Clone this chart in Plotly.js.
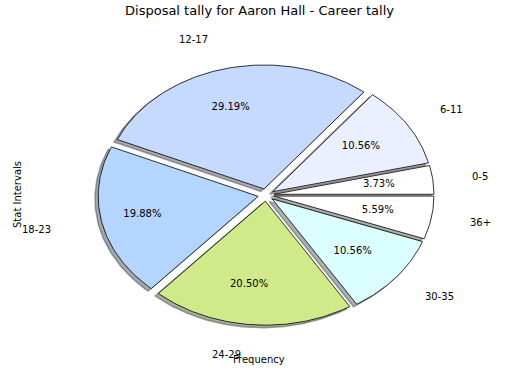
<!DOCTYPE html>
<html>
<head>
<meta charset="utf-8">
<script src="https://cdn.plot.ly/plotly-3.0.1.min.js"></script>
<style>html,body{margin:0;padding:0;background:#fff;}#chart{width:520px;height:390px;}</style>
</head>
<body>
<div id="chart"></div>
<script>
// ---- data ----
const categories = ['0-5', '6-11', '12-17', '18-23', '24-29', '30-35', '36+'];
const counts = [6, 17, 47, 32, 33, 17, 9];
const sliceColors = ['#ffffff', '#eaf0ff', '#c6d9ff', '#b3d5ff', '#d0ea8a', '#dbffff', '#ffffff'];
const explode = [0.05, 0.05, 0.05, 0.05, 0.05, 0.05, 0.05];
const chartTitle = 'Disposal tally for Aaron Hall - Career tally';
const xLabel = 'Frequency';
const yLabel = 'Stat Intervals';

// ---- build ----
const total = counts.reduce((a, b) => a + b, 0);
const traces = [];
const shadowTraces = [];
const annotations = [];
const pctX = [], pctY = [], pctText = [];
let start = 0;
const deg = Math.PI / 180;

function shade(hex) {
  const r = parseInt(hex.slice(1, 3), 16), g = parseInt(hex.slice(3, 5), 16), b = parseInt(hex.slice(5, 7), 16);
  return 'rgba(' + Math.round(r * 0.3) + ',' + Math.round(g * 0.3) + ',' + Math.round(b * 0.3) + ',0.45)';
}

counts.forEach((v, i) => {
  const span = v / total * 360;
  const t1 = start, t2 = start + span;
  const mid = (t1 + t2) / 2;
  const ex = explode[i] * Math.cos(mid * deg);
  const ey = explode[i] * Math.sin(mid * deg);
  const xs = [ex], ys = [ey];
  const n = Math.max(4, Math.ceil(span));
  for (let k = 0; k <= n; k++) {
    const t = (t1 + span * k / n) * deg;
    xs.push(ex + Math.cos(t));
    ys.push(ey + Math.sin(t));
  }
  xs.push(ex); ys.push(ey);
  shadowTraces.push({
    type: 'scatter', mode: 'lines', x: xs.map(q => q - 0.02), y: ys.map(q => q - 0.02),
    fill: 'toself', fillcolor: shade(sliceColors[i]),
    line: {color: shade(sliceColors[i]), width: 1.5}, hoverinfo: 'skip', showlegend: false
  });
  traces.push({
    type: 'scatter', mode: 'lines', x: xs, y: ys, name: categories[i],
    fill: 'toself', fillcolor: sliceColors[i],
    line: {color: '#000000', width: 0.8}, showlegend: false
  });
  const c = Math.cos(mid * deg), s = Math.sin(mid * deg);
  annotations.push({
    xref: 'x', yref: 'y', x: -0.04 + 1.336 * c, y: 1.292 * s, text: categories[i],
    showarrow: false, xanchor: c > 0 ? 'left' : 'right', yanchor: 'middle', borderpad: 0, borderwidth: 0,
    font: {family: 'DejaVu Sans', size: 10, color: '#000'}
  });
  pctX.push(-0.04 + 0.75 * c);
  pctY.push(0.726 * s);
  pctText.push((v / total * 100).toFixed(2) + '%');
  start = t2;
});

const pctTrace = {
  type: 'scatter', mode: 'text', x: pctX, y: pctY, text: pctText,
  textposition: 'middle center', textfont: {family: 'DejaVu Sans', size: 10, color: '#000'},
  hoverinfo: 'skip', showlegend: false
};

annotations.push({
  xref: 'paper', yref: 'paper', x: 258.7 / 520, y: 1 - 359.5 / 390, text: xLabel, showarrow: false,
  xanchor: 'center', yanchor: 'middle', borderpad: 0, borderwidth: 0,
  font: {family: 'DejaVu Sans', size: 10, color: '#000'}
});
annotations.push({
  xref: 'paper', yref: 'paper', x: 17 / 520, y: 1 - 195 / 390, text: yLabel, showarrow: false,
  textangle: -90, xanchor: 'center', yanchor: 'middle', borderpad: 0, borderwidth: 0,
  font: {family: 'DejaVu Sans', size: 10, color: '#000'}
});

const layout = {
  width: 520, height: 390,
  margin: {l: 0, r: 0, t: 0, b: 0},
  paper_bgcolor: '#ffffff', plot_bgcolor: '#ffffff',
  title: {text: chartTitle, x: 259.5 / 520, xanchor: 'center', y: 1 - 10 / 390, yanchor: 'middle', yref: 'container',
          font: {family: 'DejaVu Sans', size: 13, color: '#000'}},
  xaxis: {range: [-266 / 160, (520 - 266) / 160], visible: false, fixedrange: true},
  yaxis: {range: [-(390 - 195) / 124, 195 / 124], visible: false, fixedrange: true},
  annotations: annotations,
  showlegend: false
};

Plotly.newPlot('chart', shadowTraces.concat(traces).concat([pctTrace]), layout, {displayModeBar: false, staticPlot: true});
</script>
</body>
</html>
